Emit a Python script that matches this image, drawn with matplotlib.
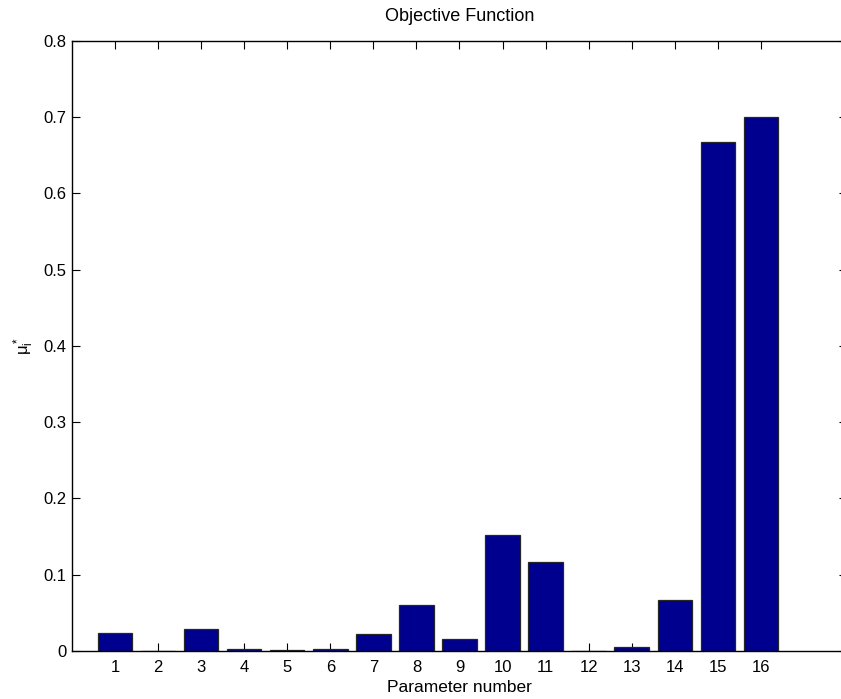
import numpy as np
import matplotlib
matplotlib.use('Agg')
import matplotlib.pyplot as plt


BAR_COLOR = (0, 0, 0.5625)
EDGE_COLOR = (0.15, 0.15, 0.15)

params = np.arange(1, 17)
mu_star = [0.023, 0.0, 0.029, 0.002, 0.0005, 0.002, 0.022, 0.060,
           0.015, 0.152, 0.116, 0.0, 0.005, 0.066, 0.667, 0.700]
y_ticks = [0, 0.1, 0.2, 0.3, 0.4, 0.5, 0.6, 0.7, 0.8]
y_tick_labels = ['0', '0.1', '0.2', '0.3', '0.4', '0.5', '0.6', '0.7', '0.8']

plt.rcParams['font.family'] = ['Liberation Sans', 'DejaVu Sans']
plt.rcParams['mathtext.fontset'] = 'custom'
plt.rcParams['mathtext.rm'] = 'Liberation Sans'
plt.rcParams['mathtext.it'] = 'Liberation Sans:italic'

fig = plt.figure(figsize=(8.41, 6.99), dpi=100)
ax = fig.add_axes([0.0856, 0.069, 0.9215, 0.8727])

ax.bar(params, mu_star, width=0.8, color=BAR_COLOR,
       edgecolor=EDGE_COLOR, linewidth=0.9, zorder=2)

ax.set_xlim(0, 18)
ax.set_ylim(0, 0.8)
ax.set_xticks(params)
ax.set_xticklabels([str(p) for p in params])
ax.set_yticks(y_ticks)
ax.set_yticklabels(y_tick_labels)

ax.tick_params(direction='in', length=6, width=0.8, labelsize=12,
               top=True, right=True, colors='black')
ax.tick_params(axis='x', pad=7)
ax.tick_params(axis='y', pad=4)
for side in ax.spines.values():
    side.set_linewidth(1.0)

ax.set_title('Objective Function', fontsize=13, pad=14)
ax.set_xlabel('Parameter number', fontsize=12.5, labelpad=3)
ax.set_ylabel(r'$\mathrm{\mu_i^*}$', fontsize=12, labelpad=5)

fig.savefig('out.png', dpi=100)
